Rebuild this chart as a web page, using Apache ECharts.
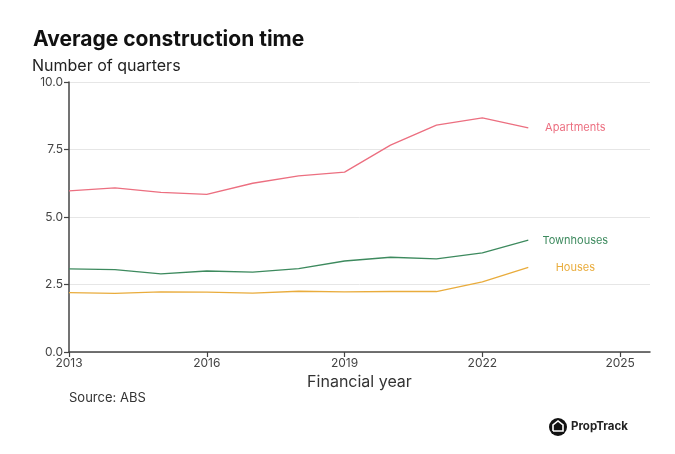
<!DOCTYPE html>
<html>
<head>
<meta charset="utf-8">
<script src="https://cdn.jsdelivr.net/npm/echarts@6/dist/echarts.min.js"></script>
<style>
html,body{margin:0;padding:0;background:#fff;}
#c{width:675px;height:454px;}
</style>
</head>
<body>
<div id="c"></div>
<script>
const years = [2013,2014,2015,2016,2017,2018,2019,2020,2021,2022,2023];
const apartments = [5.97,6.08,5.91,5.84,6.25,6.52,6.66,7.66,8.40,8.67,8.30];
const townhouses = [3.08,3.05,2.89,3.00,2.96,3.09,3.37,3.51,3.45,3.67,4.14];
const houses = [2.20,2.17,2.23,2.22,2.18,2.25,2.23,2.24,2.24,2.60,3.13];
const xTicks = [2013,2016,2019,2022,2025];
const yTicks = [0,2.5,5,7.5,10];

const font = 'Inter, "Noto Sans", sans-serif';
const chart = echarts.init(document.getElementById('c'));

function mk(name, vals, color){
  return {
    name: name, type: 'line', symbol: 'none', smooth: false,
    data: years.map((y,i)=>[y, vals[i]]),
    lineStyle: {width: 1.3, color: color},
    itemStyle: {color: color},
    endLabel: {show: true, formatter: '{a}', color: color, fontFamily: font, fontSize: 11, align: 'center', distance: 47},
    emphasis: {disabled: true}
  };
}

chart.setOption({
  animation: false,
  backgroundColor: '#ffffff',
  title: {
    text: 'Average construction time',
    left: 28, top: 24,
    textStyle: {fontFamily: font, fontSize: 21, fontWeight: 'bold', color: '#111'}
  },
  grid: {left: 69, right: 25, top: 82, bottom: 102},
  xAxis: {
    type: 'value', min: 2013, max: 2025.65, interval: 3,
    name: 'Financial year', nameLocation: 'middle', nameGap: 20,
    nameTextStyle: {fontFamily: font, fontSize: 16, color: '#333'},
    axisLine: {show: true, lineStyle: {color: '#444', width: 1.5}},
    axisTick: {show: true, length: 5, lineStyle: {color: '#444', width: 1.2}, customValues: xTicks},
    axisLabel: {customValues: xTicks, formatter: v => String(v), fontFamily: font, fontSize: 12, color: '#444', margin: 5},
    splitLine: {show: false}
  },
  yAxis: {
    type: 'value', min: 0, max: 10, interval: 2.5,
    name: 'Number of quarters', nameLocation: 'end', nameGap: 8,
    nameTextStyle: {fontFamily: font, fontSize: 16, color: '#222', align: 'left', padding: [0,0,0,-37]},
    axisLine: {show: true, lineStyle: {color: '#444', width: 1.5}},
    axisTick: {show: true, length: 5, lineStyle: {color: '#444', width: 1.2}},
    axisLabel: {formatter: v => v.toFixed(1), fontFamily: font, fontSize: 12, color: '#444', margin: 6},
    splitLine: {show: true, lineStyle: {color: '#e6e6e6', width: 1}}
  },
  series: [
    mk('Apartments', apartments, '#ec6f80'),
    mk('Townhouses', townhouses, '#3d8a5e'),
    mk('Houses', houses, '#e9ac3c')
  ],
  graphic: [
    {type: 'text', left: 69, top: 392, style: {text: 'Source: ABS', fontFamily: font, fontSize: 13, fill: '#333'}},
    {type: 'circle', shape: {cx: 558, cy: 427, r: 9}, style: {fill: '#111'}},
    {type: 'polyline', shape: {points: [[553,431],[553,425],[558,421],[563,425],[563,431],[553,431]]}, style: {stroke: '#fff', lineWidth: 1.6, fill: null}},
    {type: 'text', left: 571, top: 421, style: {text: 'PropTrack', fontFamily: font, fontSize: 11.5, fontWeight: 'bold', fill: '#222'}}
  ]
});
</script>
</body>
</html>
